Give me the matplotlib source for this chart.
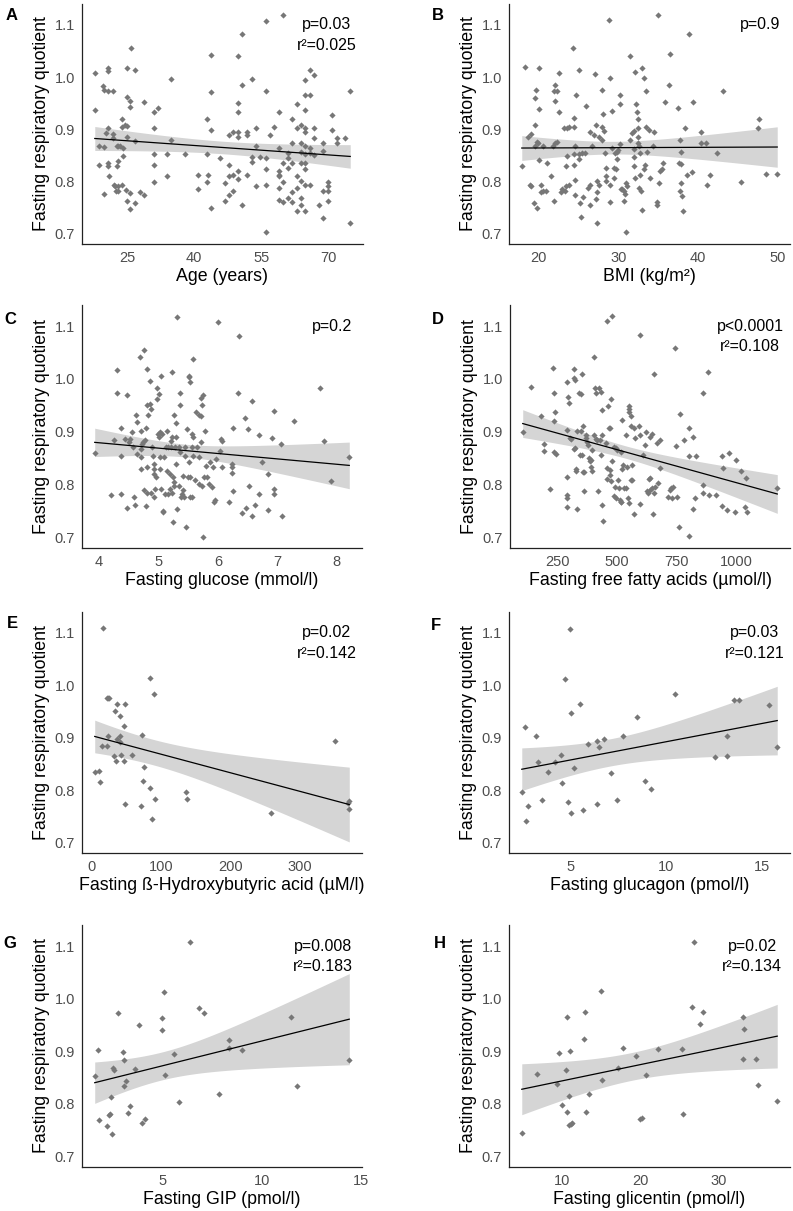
import numpy as np
import matplotlib
matplotlib.use("Agg")
import matplotlib.pyplot as plt
import matplotlib.transforms as mtransforms

plt.rcParams['font.family'] = ['Liberation Sans', 'DejaVu Sans']

# ---------------- donnees (x, quotient respiratoire) ----------------
age_rq = [(17.8,1.007),(17.8,0.937),(18.8,0.867),(18.8,0.831),(19.7,0.982),(19.8,0.975),(19.8,0.865),(19.9,0.776),
    (20.4,0.892),(20.7,1.018),(20.8,1.011),(20.8,0.974),(21.8,0.974),(20.8,0.903),(20.8,0.835),(20.8,0.829),(20.9,0.810),
    (21.9,0.890),(21.9,0.884),(22.0,0.794),(22.4,0.791),(22.9,0.782),(23.1,0.791),(22.6,0.781),(22.8,0.867),(23.1,0.867),
    (23.5,0.867),(24.0,0.864),(22.8,0.829),(22.9,0.840),(23.9,0.920),(23.9,0.905),(24.5,0.908),(24.9,0.907),(24.0,0.848),
    (23.9,0.794),(24.9,1.018),(24.9,0.961),(25.7,0.955),(24.9,0.886),(24.8,0.783),(25.0,0.763),(25.7,0.777),(25.7,0.747),
    (26.0,1.056),(25.7,0.943),(26.9,1.013),(26.9,0.759),(26.9,0.878),(27.8,0.780),(28.9,0.773),(28.9,0.952),(31.0,0.933),
    (31.9,0.941),(31.0,0.902),(31.0,0.853),(31.0,0.832),(31.0,0.798),(33.9,0.853),(33.9,0.810),(34.9,0.997),(34.9,0.880),
    (37.9,0.853),(40.8,0.812),(40.8,0.785),(42.9,0.919),(43.2,0.812),(42.9,0.798),(42.9,0.853),(43.8,1.043),(43.8,0.971),
    (43.8,0.898),(43.8,0.749),(45.8,0.844),(46.8,0.796),(46.8,0.762),(47.8,0.889),(47.8,0.831),(47.8,0.810),(47.8,0.774),
    (48.8,0.895),(48.8,0.812),(48.8,0.782),(49.8,1.040),(49.8,0.950),(49.8,0.933),(49.8,0.895),(49.8,0.886),(49.8,0.820),
    (49.8,0.804),(50.8,1.083),(50.8,0.984),(50.8,0.755),(51.8,0.895),(51.8,0.888),(51.8,0.813),(52.9,0.996),(53.9,0.902),
    (53.9,0.867),(53.9,0.791),(52.9,0.846),(52.9,0.837),(54.8,0.846),(56.0,1.108),(56.0,0.974),(56.0,0.845),(56.0,0.823),
    (56.0,0.794),(56.0,0.703),(57.0,0.889),(57.9,0.905),(58.9,0.933),(58.9,0.864),(58.9,0.820),(58.9,0.813),(58.9,0.810),
    (58.9,0.787),(58.9,0.764),(59.9,1.118),(59.9,0.835),(59.9,0.798),(59.9,0.760),(60.9,0.854),(60.9,0.845),(60.9,0.826),
    (60.9,0.769),(61.9,0.920),(61.9,0.873),(61.9,0.835),(61.9,0.779),(61.9,0.760),(62.9,0.949),(62.9,0.903),(62.9,0.810),
    (62.9,0.788),(62.9,0.744),(63.9,0.908),(63.9,0.873),(63.9,0.857),(63.9,0.835),(63.9,0.801),(63.9,0.769),(63.9,0.754),
    (64.9,0.995),(64.9,0.965),(64.9,0.936),(64.9,0.902),(64.9,0.894),(64.9,0.867),(64.9,0.852),(64.9,0.835),(64.9,0.824),
    (64.9,0.794),(64.9,0.743),(65.8,1.013),(65.8,0.965),(65.8,0.864),(65.8,0.854),(65.8,0.793),(66.9,1.004),(66.9,0.903),
    (66.9,0.883),(66.9,0.851),(67.9,0.754),(68.9,0.874),(68.9,0.859),(68.9,0.782),(68.9,0.730),(69.9,0.798),(69.9,0.791),
    (69.9,0.782),(69.9,0.763),(70.8,0.927),(70.8,0.898),(71.9,0.883),(71.9,0.873),(73.8,0.883),(74.9,0.974),(74.9,0.721)]

bmi_rq = [(17.9,0.829),(18.3,1.020),(18.7,0.886),(19.0,0.890),(18.9,0.794),(19.0,0.791),(19.6,0.960),(19.6,0.908),
    (19.6,0.867),(19.7,0.975),(20.1,1.018),(20.1,0.938),(19.8,0.876),(19.9,0.873),(20.1,0.841),(20.3,0.794),(20.3,0.779),
    (20.6,0.782),(20.9,0.782),(21.0,0.835),(20.6,0.867),(19.4,0.758),(19.8,0.749),(21.9,0.974),(22.0,0.984),(22.0,0.955),
    (22.3,0.974),(22.6,1.007),(22.6,0.933),(21.8,0.867),(22.1,0.873),(22.3,0.876),(21.5,0.810),(21.9,0.763),(23.2,0.902),
    (23.6,0.903),(23.8,0.905),(23.6,0.848),(23.5,0.829),(23.0,0.785),(23.3,0.782),(23.4,0.791),(23.8,0.794),(22.8,0.779),
    (24.4,0.905),(24.5,0.922),(24.6,0.867),(24.5,0.853),(24.5,0.831),(24.6,0.802),(24.6,0.773),(24.3,1.056),(24.7,0.966),
    (25.1,1.014),(25.1,0.852),(25.1,0.842),(25.2,0.758),(25.3,0.731),(25.6,0.771),(25.9,0.944),(25.5,0.854),(25.8,0.854),
    (26.4,0.794),(26.2,0.787),(26.4,0.755),(26.7,0.867),(26.5,0.895),(26.9,0.889),(27.2,0.908),(27.1,1.006),(27.3,0.801),
    (27.3,0.780),(27.2,0.766),(27.3,0.721),(27.6,0.886),(27.6,0.794),(27.9,0.976),(28.1,0.929),(27.9,0.905),(27.9,0.880),
    (28.2,0.897),(28.3,0.854),(28.4,0.826),(28.4,0.810),(28.5,0.801),(28.8,1.109),(28.9,0.794),(28.9,0.760),(29.0,0.998),
    (29.2,0.934),(29.2,0.864),(29.4,0.826),(29.4,0.807),(29.6,0.854),(29.8,0.857),(29.7,0.823),(29.8,0.842),(30.0,0.861),
    (30.2,0.872),(30.2,0.965),(30.2,0.949),(30.3,0.785),(30.5,0.785),(30.7,0.782),(30.8,0.776),(30.7,0.763),(31.0,0.797),
    (31.1,0.791),(31.0,0.703),(31.5,0.880),(31.7,0.893),(31.9,0.897),(31.9,0.863),(31.9,0.847),(31.9,0.829),(32.1,0.807),
    (32.1,1.009),(32.2,0.949),(31.5,1.040),(32.4,0.920),(32.4,0.902),(32.4,0.886),(32.3,0.933),(32.5,0.873),(32.6,0.867),
    (32.7,0.854),(32.7,0.813),(32.6,0.788),(32.8,0.782),(32.9,0.745),(32.9,1.018),(33.2,0.999),(33.3,0.832),(33.2,0.823),
    (33.4,0.974),(33.5,0.905),(33.8,0.898),(33.6,0.857),(34.0,0.807),(34.4,0.867),(34.5,0.895),(34.8,0.754),(34.9,0.760),
    (35.0,1.119),(35.1,0.797),(35.2,0.820),(35.5,0.823),(35.6,0.835),(35.8,0.952),(36.4,0.984),(36.5,1.045),(37.5,0.941),
    (37.9,0.857),(37.7,0.880),(37.6,0.835),(37.9,0.834),(37.9,0.797),(37.7,0.781),(38.0,0.772),(38.1,0.744),(38.3,0.903),
    (38.6,0.813),(39.2,0.818),(38.8,1.083),(39.4,0.952),(40.4,0.895),(40.4,0.873),(41.0,0.873),(41.1,0.794),(41.5,0.812),
    (42.3,0.854),(43.1,0.973),(45.4,0.799),(47.5,0.902),(47.6,0.919),(48.5,0.815),(49.9,0.815)]

glucose_rq = [(3.93,0.860),(4.21,0.780),(4.26,0.884),(4.31,1.017),(4.31,0.974),(4.37,0.907),(4.37,0.855),(4.37,0.782),
    (4.44,0.886),(4.48,0.970),(4.48,0.755),(4.50,0.880),(4.53,0.886),(4.55,0.899),(4.58,0.871),(4.59,0.776),(4.60,0.762),
    (4.63,0.931),(4.64,0.918),(4.64,0.858),(4.69,1.042),(4.70,0.829),(4.70,0.852),(4.70,0.868),(4.71,0.902),(4.73,0.877),
    (4.74,0.880),(4.76,1.055),(4.76,0.790),(4.77,0.884),(4.80,0.907),(4.80,0.760),(4.81,0.784),(4.81,1.019),(4.81,0.950),
    (4.81,0.833),(4.83,0.931),(4.86,0.997),(4.86,0.952),(4.87,0.943),(4.88,0.785),(4.90,0.871),(4.91,0.855),(4.92,0.839),
    (4.92,0.776),(4.93,0.829),(4.93,0.820),(4.94,0.792),(4.96,0.814),(4.97,0.962),(4.98,0.983),(5.00,0.896),(5.01,0.971),
    (5.01,0.890),(5.02,0.829),(5.02,0.852),(5.02,0.899),(5.04,1.006),(5.05,0.792),(5.06,0.896),(5.07,0.750),(5.08,0.749),
    (5.09,0.852),(5.11,0.782),(5.13,0.871),(5.15,0.902),(5.15,0.826),(5.16,0.782),(5.17,0.871),(5.19,0.820),(5.20,0.792),
    (5.21,0.883),(5.22,0.872),(5.23,1.013),(5.23,0.891),(5.23,0.784),(5.24,0.814),(5.25,0.730),(5.26,0.932),(5.26,0.804),
    (5.27,0.798),(5.28,0.871),(5.29,0.890),(5.29,0.917),(5.30,0.839),(5.31,1.117),(5.31,0.754),(5.34,0.798),(5.35,0.872),
    (5.36,0.974),(5.37,0.950),(5.37,0.861),(5.38,0.776),(5.40,0.783),(5.41,0.817),(5.42,0.789),(5.43,0.776),(5.44,0.854),
    (5.45,0.871),(5.47,0.719),(5.48,0.906),(5.49,0.814),(5.51,1.006),(5.51,0.842),(5.52,1.003),(5.53,0.776),(5.54,0.994),
    (5.54,0.814),(5.56,0.871),(5.57,0.896),(5.57,0.777),(5.58,1.038),(5.58,0.855),(5.59,0.890),(5.61,0.809),(5.64,0.937),
    (5.65,0.871),(5.68,0.932),(5.68,0.852),(5.69,0.802),(5.71,0.929),(5.71,0.880),(5.72,0.964),(5.73,0.950),(5.75,0.970),
    (5.75,0.700),(5.73,0.798),(5.77,0.814),(5.79,0.902),(5.80,0.835),(5.82,0.814),(5.85,0.801),(5.87,0.842),(5.90,0.795),
    (5.92,0.833),(5.93,0.768),(5.96,0.771),(5.97,0.848),(6.01,1.108),(6.03,0.863),(6.06,0.886),(6.07,0.883),(6.07,0.833),
    (6.19,0.767),(6.23,0.833),(6.24,0.839),(6.24,0.822),(6.25,0.908),(6.25,0.788),(6.35,1.082),(6.34,0.973),(6.41,0.746),
    (6.46,0.926),(6.47,0.756),(6.51,0.905),(6.52,0.798),(6.57,0.959),(6.57,0.741),(6.63,0.762),(6.69,0.894),(6.69,0.783),
    (6.74,0.842),(6.84,0.820),(6.84,0.752),(6.91,0.888),(6.95,0.940),(6.95,0.792),(6.95,0.782),(7.07,0.877),(7.08,0.741),
    (7.28,0.920),(7.72,0.982),(7.78,0.883),(7.90,0.807),(8.21,0.853)]

ffa_rq = [(104,0.899),(139,0.984),(181,0.929),(194,0.876),(194,0.864),(218,0.792),(232,1.020),(236,0.974),(236,0.921),
    (239,0.938),(236,0.861),(243,0.857),(288,0.995),(292,0.965),(296,0.954),(288,0.814),(288,0.781),(288,0.774),(288,0.757),
    (289,0.903),(303,0.888),(308,0.886),(317,0.867),(322,0.869),(319,1.019),(319,1.002),(322,0.998),(326,0.825),(329,0.830),
    (331,0.754),(333,0.902),(340,0.974),(347,0.971),(344,0.856),(347,0.902),(354,1.009),(358,0.910),(354,0.856),(357,0.823),
    (361,0.787),(361,0.823),(368,0.894),(368,0.888),(375,0.881),(379,0.875),(382,0.851),(385,0.844),(389,0.847),(392,0.834),
    (396,0.866),(396,0.825),(403,1.042),(403,0.894),(407,0.982),(410,0.973),(413,0.887),(417,0.885),(419,0.787),(424,0.983),
    (428,0.885),(431,0.856),(433,0.975),(435,0.762),(438,0.941),(438,0.894),(442,0.731),(451,0.878),(456,0.810),(458,1.109),
    (458,0.831),(461,0.949),(465,0.908),(468,0.827),(469,0.907),(469,0.818),(475,0.962),(475,0.807),(479,1.120),(479,0.844),
    (486,0.872),(486,0.778),(489,0.795),(496,0.870),(497,0.774),(500,0.866),(503,0.809),(507,0.793),(511,0.771),(514,0.768),
    (518,0.767),(518,0.861),(521,0.922),(521,0.830),(525,0.838),(528,0.793),(535,0.894),(538,0.793),(542,0.834),(546,0.774),
    (549,0.949),(549,0.944),(551,0.938),(551,0.765),(556,0.929),(556,0.809),(558,0.910),(560,0.809),(563,0.837),(569,0.907),
    (572,0.744),(576,0.889),(590,0.910),(594,1.084),(597,0.894),(594,0.763),(608,0.856),(618,0.875),(621,0.899),(625,0.787),
    (629,0.785),(632,0.810),(636,0.890),(636,0.813),(639,0.790),(646,0.895),(646,0.794),(649,0.744),(653,1.009),(653,0.784),
    (660,0.796),(667,0.878),(669,0.803),(678,0.831),(681,0.885),(715,0.777),(722,0.790),(726,0.794),(729,0.774),(736,0.796),
    (744,1.058),(747,0.873),(750,0.776),(761,0.719),(764,0.933),(778,0.885),(799,0.907),(799,0.855),(800,0.703),(817,0.754),
    (819,0.891),(826,0.774),(829,0.855),(858,0.784),(858,0.800),(861,0.974),(882,1.014),(886,0.780),(914,0.780),(938,0.855),
    (938,0.759),(942,0.831),(961,0.752),(969,0.859),(1000,0.847),(993,0.749),(1021,0.826),(1035,0.757),(1039,0.812),
    (1044,0.749),(1171,0.794)]

bhb_rq = [(5,0.835),(11,0.837),(12,0.815),(17,1.110),(16,0.884),(22,0.975),(24,0.975),(25,0.975),(23,0.884),(24,0.904),
    (32,0.865),(34,0.951),(36,0.855),(37,0.964),(37,0.897),(41,0.941),(41,0.904),(41,0.891),(43,0.868),(47,0.922),
    (48,0.965),(47,0.855),(48,0.774),(58,0.867),(71,0.769),(73,0.906),(76,0.844),(75,0.818),(84,1.014),(84,0.805),
    (88,0.744),(90,0.983),(92,0.783),(136,0.797),(137,0.783),(258,0.757),(350,0.894),(371,0.779),(371,0.764),(369,0.775)]

glucagon_rq = [(2.43,0.796),(2.61,0.920),(2.66,0.742),(2.75,0.769),(3.18,0.903),(3.27,0.854),(3.48,0.782),(3.83,0.835),
    (4.18,0.854),(4.49,0.867),(4.53,0.813),(4.70,1.012),(4.83,0.778),(4.97,1.108),(5.00,0.948),(5.00,0.757),(5.17,0.843),
    (5.49,0.965),(5.63,0.763),(5.92,0.888),(6.36,0.893),(6.36,0.774),(6.48,0.883),(6.76,0.898),(7.11,0.832),(7.44,0.782),
    (7.72,0.903),(8.49,0.939),(8.89,0.817),(9.19,0.802),(10.46,0.983),(12.56,0.863),(13.20,0.904),(13.20,0.866),
    (13.57,0.972),(13.83,0.972),(15.38,0.963),(15.82,0.883)]

gip_rq = [(1.59,0.853),(1.76,0.903),(1.82,0.769),(2.21,0.757),(2.29,0.779),(2.37,0.781),(2.41,0.813),(2.46,0.743),
    (2.49,0.868),(2.58,0.864),(2.74,0.973),(2.99,0.898),(3.04,0.883),(3.04,0.834),(3.16,0.843),(3.26,0.782),(3.38,0.796),
    (3.63,0.867),(3.80,0.949),(3.96,0.763),(4.13,0.772),(4.97,0.963),(5.00,0.941),(5.10,1.013),(5.13,0.854),(5.60,0.894),
    (5.84,0.803),(6.39,1.108),(6.86,0.982),(7.09,0.973),(7.86,0.818),(8.34,0.922),(8.34,0.906),(9.01,0.903),(11.45,0.965),
    (11.77,0.834),(14.41,0.883)]

glicentin_rq = [(4.81,0.745),(6.81,0.856),(9.36,0.837),(9.62,0.896),(9.91,0.798),(10.43,0.864),(10.64,0.965),(10.64,0.785),
    (10.85,0.815),(10.85,0.759),(10.94,0.900),(11.11,0.761),(11.28,0.763),(12.89,0.974),(12.77,0.923),(12.98,0.784),
    (13.45,0.819),(14.94,1.014),(15.02,0.846),(17.15,0.869),(17.79,0.907),(19.40,0.891),(19.91,0.772),(20.13,0.773),
    (20.68,0.855),(22.17,0.904),(25.23,0.904),(25.36,0.781),(26.60,0.984),(26.81,1.108),(27.57,0.951),(28.00,0.974),
    (33.02,0.885),(33.11,0.965),(33.23,0.942),(34.72,0.885),(35.02,0.835),(37.45,0.805)]

# lettre, donnees, titre axe x, graduations, texte stats
panels = [
    ("A", age_rq, "Age (years)", [25, 40, 55, 70], "p=0.03", "r²=0.025"),
    ("B", bmi_rq, "BMI (kg/m²)", [20, 30, 40, 50], "p=0.9", None),
    ("C", glucose_rq, "Fasting glucose (mmol/l)", [4, 5, 6, 7, 8], "p=0.2", None),
    ("D", ffa_rq, "Fasting free fatty acids (µmol/l)", [250, 500, 750, 1000], "p<0.0001", "r²=0.108"),
    ("E", bhb_rq, "Fasting ß-Hydroxybutyric acid (µM/l)", [0, 100, 200, 300], "p=0.02", "r²=0.142"),
    ("F", glucagon_rq, "Fasting glucagon (pmol/l)", [5, 10, 15], "p=0.03", "r²=0.121"),
    ("G", gip_rq, "Fasting GIP (pmol/l)", [5, 10, 15], "p=0.008", "r²=0.183"),
    ("H", glicentin_rq, "Fasting glicentin (pmol/l)", [10, 20, 30], "p=0.02", "r²=0.134"),
]
yticks = [0.7, 0.8, 0.9, 1.0, 1.1]

# ---------------- mise en page (pixels de la figure) ----------------
W, H = 793, 1211
rects = {  # gauche, haut, droite, bas
    "A": (82, 4, 363, 244), "B": (509, 4, 790, 244),
    "C": (82, 305, 362, 548), "D": (510, 305, 790, 548),
    "E": (82, 612, 362, 853), "F": (509, 612, 790, 853),
    "G": (82, 925, 362, 1167), "H": (509, 925, 790, 1167),
}
letter_pos = {"A": (12, 16), "B": (438, 16), "C": (10, 319), "D": (438, 320),
              "E": (12, 624), "F": (436, 625), "G": (10, 943), "H": (440, 943)}
stat_x = {"A": 0.872, "B": 0.893, "C": 0.892, "D": 0.857,
          "E": 0.874, "F": 0.875, "G": 0.861, "H": 0.865}

pt_col = "#777777"
band_col = "#d5d5d5"


def t975(df):
    # quantile de Student 97.5% (developpement de Cornish-Fisher)
    z = 1.959964
    return z + (z**3 + z) / (4 * df) + (5 * z**5 + 16 * z**3 + 3 * z) / (96 * df**2)


fig = plt.figure(figsize=(W / 100, H / 100), dpi=100)

for letter, data, xlab, xt, ptxt, rtxt in panels:
    l, t, r, b = rects[letter]
    ax = fig.add_axes([l / W, 1 - b / H, (r - l) / W, (b - t) / H])
    x = np.array([p[0] for p in data], dtype=float)
    y = np.array([p[1] for p in data], dtype=float)

    # regression lineaire + IC 95%
    n = len(x)
    slope, icpt = np.polyfit(x, y, 1)
    xs = np.linspace(x.min(), x.max(), 100)
    yh = icpt + slope * xs
    s = np.sqrt(np.sum((y - (icpt + slope * x))**2) / (n - 2))
    se = s * np.sqrt(1 / n + (xs - x.mean())**2 / np.sum((x - x.mean())**2))
    tq = t975(n - 2)

    ax.fill_between(xs, yh - tq * se, yh + tq * se, color=band_col, lw=0, zorder=1)
    ax.scatter(x, y, marker="D", s=10, color=pt_col, linewidths=0, zorder=2)
    ax.plot(xs, yh, color="black", lw=0.9, zorder=3)

    rng = x.max() - x.min()
    ax.set_xlim(x.min() - 0.05 * rng, x.max() + 0.05 * rng)
    ax.set_ylim(0.68, 1.14)
    ax.set_xticks(xt)
    ax.set_yticks(yticks)
    ax.set_yticklabels(["0.7", "0.8", "0.9", "1.0", "1.1"])

    for sp in ["top", "right"]:
        ax.spines[sp].set_visible(False)
    for sp in ["left", "bottom"]:
        ax.spines[sp].set_color("#222222")
        ax.spines[sp].set_linewidth(0.9)
    ax.tick_params(length=0, pad=5, labelsize=10.5, labelcolor="#4d4d4d")

    ax.set_xlabel(xlab, fontsize=12.8, va="top")
    ax.xaxis.set_label_coords(0.5, -0.10)
    ax.set_ylabel("Fasting respiratory quotient", fontsize=12.8)
    ax.yaxis.set_label_coords(-0.115, 0.5)

    trans = mtransforms.blended_transform_factory(ax.transAxes, ax.transData)
    ax.text(stat_x[letter], 1.1, ptxt, transform=trans, ha="center", va="center", fontsize=11.5)
    if rtxt:
        ax.annotate(rtxt, xy=(stat_x[letter], 1.1), xycoords=trans, xytext=(0, -14.5),
                    textcoords="offset points", ha="center", va="center", fontsize=11.5)

    lx, ly = letter_pos[letter]
    fig.text(lx / W, 1 - ly / H, letter, fontsize=12, fontweight="bold", ha="center", va="center")

fig.savefig("out.png", dpi=100)
